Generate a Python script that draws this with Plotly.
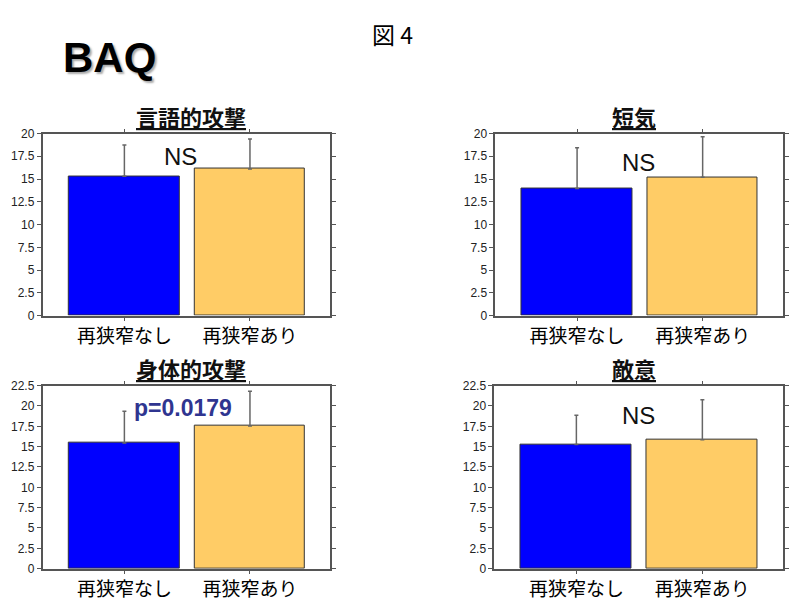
import plotly.graph_objects as go

categories = ["再狭窄なし", "再狭窄あり"]
panel_titles = ["言語的攻撃", "短気", "身体的攻撃", "敵意"]
means_none = [15.3, 13.95, 15.45, 15.25]
means_yes = [16.1, 15.2, 17.55, 15.85]
sd_none = [3.45, 4.5, 3.9, 3.6]
sd_yes = [3.3, 4.45, 4.25, 4.9]
y_max = [20, 20, 22.5, 22.5]
labels = ["NS", "NS", "p=0.0179", "NS"]

W, H = 789, 601
# plot-area pixel boxes (x0, x1, ytop, ybottom)
boxes = [(43, 332, 130, 317), (498, 787, 130, 317),
         (43, 332, 389, 577), (497, 787, 389, 577)]
title_pos = [(192, 112), (637, 112), (192, 371), (637, 371)]
label_pos = [(181, 154), (642, 160), (184, 412), (642, 420)]

fig = go.Figure()
colors = ["#0000FF", "#FFCC66"]
for i in range(4):
    ax = "" if i == 0 else str(i + 1)
    x0, x1, yt, yb = boxes[i]
    fig.add_trace(go.Bar(
        x=[0, 1], y=[means_none[i], means_yes[i]],
        width=0.88,
        marker=dict(color=colors, line=dict(color="#333333", width=1)),
        error_y=dict(type="data", symmetric=False,
                     array=[sd_none[i], sd_yes[i]], arrayminus=[0, 0],
                     color="#666666", thickness=1.5, width=2),
        xaxis="x" + ax, yaxis="y" + ax, showlegend=False,
    ))
    fig.layout["xaxis" + ax] = dict(
        domain=[x0 / W, x1 / W], anchor="y" + ax,
        range=[-0.65, 1.64], tickvals=[0, 1], ticktext=categories,
        tickfont=dict(family="Noto Sans CJK JP", size=19, color="#000"),
        showgrid=False, zeroline=False, showline=True, linewidth=2,
        linecolor="#555", mirror="ticks", ticks="outside", ticklen=3,
        tickcolor="#555", fixedrange=True,
    )
    fig.layout["yaxis" + ax] = dict(
        domain=[1 - yb / H, 1 - yt / H], anchor="x" + ax,
        range=[0, y_max[i]], dtick=2.5,
        tickfont=dict(family="Liberation Sans Narrow, Liberation Sans", size=12, color="#222"),
        showgrid=False, zeroline=False, showline=True, linewidth=2,
        linecolor="#555", mirror="ticks", ticks="outside", ticklen=4,
        tickcolor="#555", fixedrange=True,
    )
    tx, ty = title_pos[i]
    fig.add_annotation(
        x=tx / W, y=1 - ty / H, xref="paper", yref="paper",
        xanchor="center", yanchor="middle",
        text="<u><b>" + panel_titles[i] + "</b></u>", showarrow=False,
        font=dict(family="Noto Sans CJK JP", size=22, color="#111"),
    )
    lx, ly = label_pos[i]
    if labels[i].startswith("p"):
        fnt = dict(family="Liberation Sans", size=23, color="#2F3590")
        txt = "<b>" + labels[i] + "</b>"
    else:
        fnt = dict(family="Liberation Sans", size=24, color="#111")
        txt = labels[i]
    fig.add_annotation(x=lx / W, y=1 - ly / H, xref="paper", yref="paper",
                       xanchor="center", yanchor="middle",
                       text=txt, showarrow=False, font=fnt)

fig.add_annotation(x=110 / W, y=1 - 52 / H, xref="paper", yref="paper",
                   xanchor="center", yanchor="middle",
                   text="<b>BAQ</b>", showarrow=False,
                   font=dict(family="Liberation Sans", size=42, color="#000",
                             shadow="2px 2px 2px #aaa"))
fig.add_annotation(x=395 / W, y=1 - 28 / H, xref="paper", yref="paper",
                   xanchor="center", yanchor="middle",
                   text="図 4", showarrow=False,
                   font=dict(family="Noto Sans CJK JP", size=23, color="#000"))

fig.update_layout(width=W, height=H, margin=dict(l=0, r=0, t=0, b=0),
                  paper_bgcolor="white", plot_bgcolor="white", bargap=0)
fig.write_html("out.html")
